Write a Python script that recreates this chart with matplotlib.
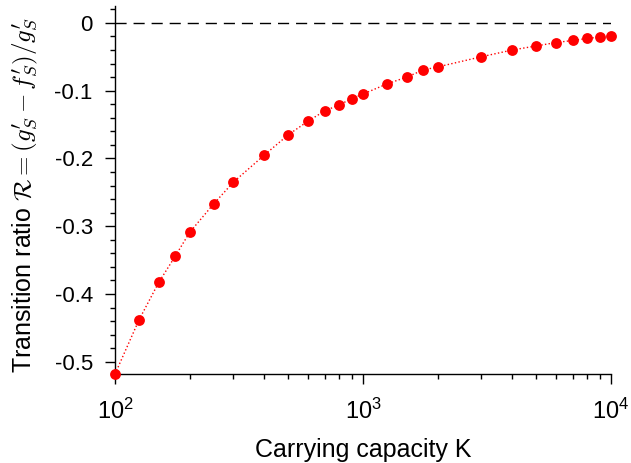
import numpy as np
import matplotlib
matplotlib.use("Agg")
import matplotlib.pyplot as plt
import matplotlib.ticker as ticker

plt.rcParams['font.family'] = ['Liberation Sans', 'DejaVu Sans']
plt.rcParams['mathtext.fontset'] = 'cm'

# carrying capacity and transition ratio
K = [100, 125, 150, 175, 200, 250, 300, 400, 500, 600, 700, 800, 900, 1000,
     1250, 1500, 1750, 2000, 3000, 4000, 5000, 6000, 7000, 8000, 9000, 10000]
R = [-0.518, -0.438, -0.383, -0.344, -0.309, -0.267, -0.235, -0.195, -0.165,
     -0.145, -0.130, -0.121, -0.112, -0.105, -0.090, -0.080, -0.0695, -0.065,
     -0.050, -0.040, -0.034, -0.029, -0.026, -0.023, -0.021, -0.019]

fig = plt.figure(figsize=(6.31, 4.63), dpi=100)
ax = fig.add_axes([0.1823, 0.1922, 0.786, 0.795])

ax.axhline(0, color='black', lw=1, ls=(0, (8, 5)))
ax.plot(K, R, color='red', lw=1, ls=':', marker='o', ms=7.8,
        markeredgewidth=0, clip_on=False, zorder=3)

ax.set_xscale('log')
ax.set_xlim(100, 10000)
ax.set_ylim(-0.518, 0.025)
ax.yaxis.set_major_locator(ticker.MultipleLocator(0.1))
ax.yaxis.set_minor_locator(ticker.MultipleLocator(0.02))
ax.yaxis.set_major_formatter(ticker.FuncFormatter(
    lambda v, p: '0' if abs(v) < 1e-9 else ('%.1f' % v)))

for s in ['top', 'right']:
    ax.spines[s].set_visible(False)
for s in ['left', 'bottom']:
    ax.spines[s].set_linewidth(1)

ax.tick_params(which='major', direction='out', length=7, width=1, labelsize=16)
ax.tick_params(which='minor', direction='out', length=3.5, width=1)
ax.tick_params(axis='x', pad=11, labelsize=17)
ax.tick_params(axis='y', pad=9)

ax.set_xlabel('Carrying capacity K', fontsize=18)
ax.set_ylabel(r"Transition ratio $\mathcal{R}=(g_S^{\prime}-f_S^{\prime})/g_S^{\prime}$",
              fontsize=18)
ax.xaxis.set_label_coords(0.5, -0.174)
ax.yaxis.set_label_coords(-0.151, 0.486)

fig.savefig('out.png', dpi=100)
